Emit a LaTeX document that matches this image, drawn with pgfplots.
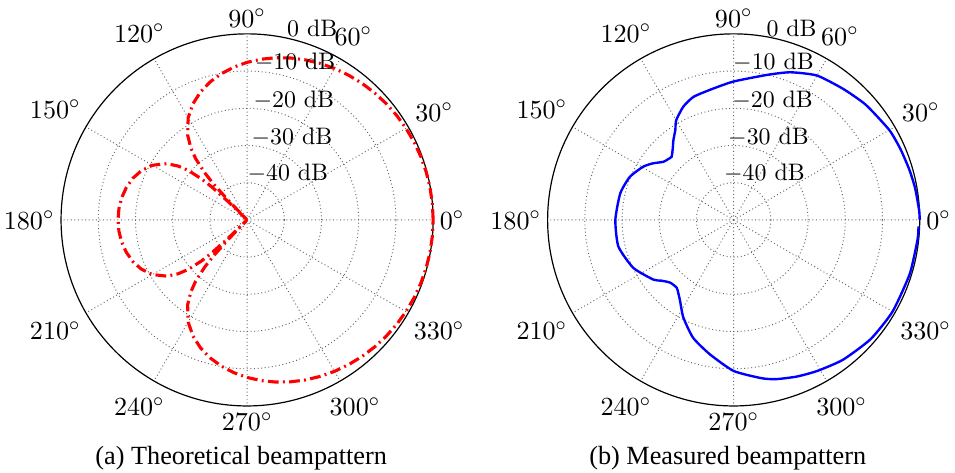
\documentclass[border=0pt]{standalone}
\usepackage{fontspec}
\newfontfamily\capfont{Liberation Serif}
\usepackage{pgfplots}
\usepackage{pgfplotstable}
\pgfplotsset{compat=1.18}
\usepgfplotslibrary{polar}

\pgfplotstableread{
a d
0 0
5 -0.02
10 -0.08
15 -0.175
20 -0.31
25 -0.49
30 -0.71
35 -0.97
40 -1.28
45 -1.64
50 -2.04
55 -2.50
60 -3.01
65 -3.59
70 -4.23
75 -4.95
80 -5.75
85 -6.65
90 -7.66
95 -8.80
100 -10.10
105 -11.61
110 -13.40
115 -15.57
120 -18.32
125 -22.14
128 -25.43
130 -28.47
132 -33.07
133 -36.65
134 -42.7
135 -50
136 -42.9
137 -36.95
138 -33.5
140 -29.24
142 -26.48
145 -23.65
150 -20.62
155 -18.66
160 -17.31
165 -16.39
170 -15.77
175 -15.42
180 -15.31
185 -15.42
190 -15.77
195 -16.39
200 -17.31
205 -18.66
210 -20.62
215 -23.65
218 -26.48
220 -29.24
222 -33.5
223 -36.95
224 -42.9
225 -50
226 -42.7
227 -36.65
228 -33.07
230 -28.47
232 -25.43
235 -22.14
240 -18.32
245 -15.57
250 -13.40
255 -11.61
260 -10.10
265 -8.80
270 -7.66
275 -6.65
280 -5.75
285 -4.95
290 -4.23
295 -3.59
300 -3.01
305 -2.50
310 -2.04
315 -1.64
320 -1.28
325 -0.97
330 -0.71
335 -0.49
340 -0.31
345 -0.175
350 -0.08
355 -0.02
360 0
}\theo

\pgfplotstableread{
a d
0 0
3 -0.1
10 -0.5
16 -0.9
23 -1.3
30 -1.7
41 -2.9
50 -4.1
60 -5.2
69 -7.5
77 -10.0
90 -12.8
99 -14.3
108 -15.2
114 -16.7
120 -19.1
123 -21.2
127 -23.1
131 -25.0
134.5 -26.2
137 -26.0
140.4 -25.5
145 -23.5
149.5 -21.8
157.4 -19.8
166.8 -18.7
180 -18.2
193 -18.2
205.5 -20.1
216.6 -23.1
220 -24.6
224.6 -26.0
229.9 -26.2
233 -25.3
236.5 -23.9
242.7 -20.5
251 -16.5
260 -13.3
270 -9.4
280 -6.8
285 -5.7
292 -4.6
299 -3.6
308 -2.3
319 -1.2
330 -0.7
343 -0.5
354 -0.3
358 -0.3
}\meas

\pgfplotsset{mypolar/.style={
  width=156pt, height=156pt, scale only axis,
  xtick={0,30,...,330},
  xticklabel={$\pgfmathprintnumber{\tick}^\circ$},
  xticklabel style={font=\fontsize{11.4}{13}\selectfont, inner sep=2.6pt},
  ymin=0, ymax=50, ytick={10,20,30,40},
  yticklabels={},
  y axis line style={draw=none},
  grid=major,
  major grid style={black!60, line width=0.4pt, dash pattern=on 0.4pt off 1.1pt},
  axis line style={black, line width=0.5pt},
  major tick length=0pt,
  clip=false,
}}

\begin{document}
\begin{tikzpicture}
\begin{polaraxis}[mypolar, name=L]
\addplot[red, line width=1.3pt, dash pattern=on 4.5pt off 1.8pt on 0.8pt off 1.8pt]
  table[x=a, y expr=\thisrow{d}+50] {\theo};
\node[anchor=east, xshift=41.3pt] at (axis cs:90,51.5) {$0$ dB};
\node[anchor=east, xshift=40.5pt] at (axis cs:90,42.4) {$-10$ dB};
\node[anchor=east, xshift=40.0pt] at (axis cs:90,32.1) {$-20$ dB};
\node[anchor=east, xshift=39.2pt] at (axis cs:90,22.2) {$-30$ dB};
\node[anchor=east, xshift=37.5pt] at (axis cs:90,12.6) {$-40$ dB};
\end{polaraxis}
\begin{polaraxis}[mypolar, name=R, at={(204pt,0pt)}]
\addplot[blue, line width=1pt, smooth, tension=0.35]
  table[x=a, y expr=\thisrow{d}+50] {\meas};
\node[anchor=east, xshift=38.3pt] at (axis cs:90,51.5) {$0$ dB};
\node[anchor=east, xshift=37.1pt] at (axis cs:90,42.4) {$-10$ dB};
\node[anchor=east, xshift=36.7pt] at (axis cs:90,32.1) {$-20$ dB};
\node[anchor=east, xshift=35.0pt] at (axis cs:90,22.2) {$-30$ dB};
\node[anchor=east, xshift=33.3pt] at (axis cs:90,12.6) {$-40$ dB};
\end{polaraxis}
\node[font=\fontsize{11}{13}\capfont] at ([xshift=-2.5pt,yshift=-99.8pt]L.center) {(a) Theoretical beampattern};
\node[font=\fontsize{11}{13}\capfont] at ([xshift=-2.5pt,yshift=-99.8pt]R.center) {(b) Measured beampattern};
\pgfresetboundingbox
\path[use as bounding box] ([xshift=-103.6pt,yshift=92.2pt]L.center) rectangle ++(400.4pt,-197.9pt);
\end{tikzpicture}
\end{document}
